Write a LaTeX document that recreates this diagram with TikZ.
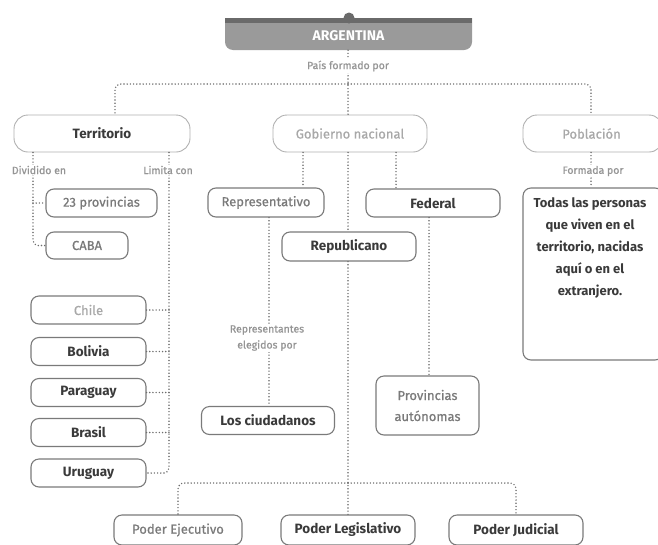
\documentclass[tikz,border=0pt]{standalone}
\usepackage{fontspec}
\setmainfont{Fira Sans}
\newfontfamily\regf[FakeBold=0.8]{Fira Sans}
\definecolor{dk}{HTML}{3A3A3A}
\definecolor{md}{HTML}{7A7A7A}
\definecolor{lt}{HTML}{A8A8A8}
\definecolor{lb}{HTML}{959595}
\definecolor{bd}{HTML}{7A7A7A}
\definecolor{bl}{HTML}{B0B0B0}
\definecolor{dc}{HTML}{6E6E6E}
\definecolor{hdark}{HTML}{6A6A6A}
\definecolor{hmid}{HTML}{9A9A9A}
\newcommand{\fsz}[2]{\fontsize{#1}{#2}\selectfont}
\begin{document}
\begin{tikzpicture}[x=1pt,y=-1pt,
  bigr/.style={draw=bl, line width=0.9pt, rounded corners=14pt, minimum height=37pt, inner sep=0pt, font=\regf\fsz{13}{15}},
  sbox/.style={draw=bd, line width=1.1pt, rounded corners=8pt, minimum height=28pt, inner sep=0pt, font=\regf\fsz{13}{15}},
  dkb/.style={text=dk, font=\fsz{13.5}{15}\bfseries},
  mdt/.style={text=md},
  ltt/.style={text=lt},
  lbl/.style={fill=white, text=lb, font=\regf\fsz{10.5}{16}, inner sep=1.2pt, align=center},
  dot/.style={draw=dc, line width=1.6pt, line cap=round, dash pattern=on 0pt off 3.2pt},
]
\useasboundingbox (0,0) rectangle (658,544);
\clip (0,0) rectangle (658,544);

% header
\fill[hmid, rounded corners=8pt] (225,10) rectangle (472,50);
\fill[white] (224,8) rectangle (473,18);
\fill[hdark] (225,18) rectangle (472,23);
\fill[hdark] (349,18) circle (5.5);
\node[minimum width=247pt, minimum height=28pt, inner sep=0pt, text=white, font=\fsz{14}{15}\bfseries] (arg) at (348.5,36) {ARGENTINA};

% level 1
\node[bigr, dkb, minimum width=176pt] (terr) at (102,133.5) {Territorio};
\node[bigr, ltt, minimum width=154pt] (gob) at (350,133.5) {Gobierno nacional};
\node[bigr, ltt, minimum width=140pt] (pob) at (593,133.5) {\hspace*{-3pt}Población};

% territorio children
\node[sbox, mdt, minimum width=111pt] (prov) at (101.5,203) {23 provincias};
\node[sbox, mdt, minimum width=82pt, minimum height=27pt] (caba) at (87,245.5) {CABA};
\node[sbox, ltt, minimum width=115pt] (chile) at (88.5,310) {Chile};
\node[sbox, dkb, minimum width=115pt] (bol) at (88.5,351.5) {Bolivia};
\node[sbox, dkb, minimum width=115pt] (par) at (88.5,392.5) {Paraguay};
\node[sbox, dkb, minimum width=115pt] (bra) at (88.5,432.5) {Brasil};
\node[sbox, dkb, minimum width=115pt] (uru) at (88.5,473) {Uruguay};

% gobierno children
\node[sbox, mdt, minimum width=116pt, minimum height=29pt] (rep) at (266,202.5) {Representativo};
\node[sbox, dkb, minimum width=134pt] (fed) at (433,203) {Federal};
\node[sbox, dkb, minimum width=134pt, minimum height=29pt] (repu) at (349,246.5) {Republicano};
\node[sbox, dkb, minimum width=133pt] (ciud) at (268,420.5) {Los ciudadanos};
\node[sbox, mdt, minimum width=103pt, minimum height=59pt, align=center, font=\regf\fsz{13}{21}] (paut) at (427.5,405.5) {Provincias\\autónomas};
\node[sbox, mdt, minimum width=128pt, minimum height=30pt] (ejec) at (178,530) {Poder Ejecutivo};
\node[sbox, dkb, minimum width=134pt, minimum height=30pt] (legi) at (348,530) {Poder Legislativo};
\node[sbox, dkb, minimum width=134pt, minimum height=30pt] (judi) at (516,530) {Poder Judicial};

% poblacion child
\node[sbox, minimum width=140pt, minimum height=172pt] (pers) at (593,274) {};
\node[text=dk, font=\fsz{13}{22.2}\bfseries, align=center, inner sep=0pt] (perst) at (590,248) {Todas las personas\\que viven en el\\territorio, nacidas\\aquí o en el\\extranjero.};

% coordinates
\coordinate (hub) at (348,84);
\coordinate (tl) at (115,0);
\coordinate (dl) at (33,0);
\coordinate (lr) at (169,0);
\coordinate (g1) at (303,0);
\coordinate (g2) at (348,0);
\coordinate (g3) at (396,0);
\coordinate (rx) at (269,0);
\coordinate (fx) at (429,0);
\coordinate (bh) at (348,483);

% connectors
\draw[dot] (arg.south -| g2) -- (gob.north -| g2);
\node[lbl] (lpais) at (348,66) {País formado por};
\draw[dot, rounded corners=6pt] (hub) -| (terr.north -| tl);
\draw[dot, rounded corners=6pt] (hub) -| (pob.north -| 591,0);

\draw[dot, rounded corners=5pt] (terr.south -| dl) |- (caba.west);
\draw[dot] (prov.west -| dl) -- (prov.west);
\node[lbl] (ldiv) at (39,170) {Dividido en};

\draw[dot, rounded corners=5pt] (terr.south -| lr) |- (uru.east);
\foreach \n in {chile,bol,par,bra} \draw[dot] (\n.east) -- (\n.east -| lr);
\node[lbl] (llim) at (168,170) {Limita con};

\draw[dot] (gob.south -| g1) -- (rep.north -| g1);
\draw[dot] (gob.south -| g2) -- (repu.north -| g2);
\draw[dot] (gob.south -| g3) -- (fed.north -| g3);
\draw[dot] (repu.south -| g2) -- (legi.north -| g2);
\draw[dot, rounded corners=6pt] (bh) -| (ejec.north);
\draw[dot, rounded corners=6pt] (bh) -| (judi.north);
\draw[dot] (fed.south -| fx) -- (paut.north -| fx);
\draw[dot] (rep.south -| rx) -- (ciud.north -| rx);
\node[lbl] (lrep) at (267,338) {Representantes\\elegidos por};

\draw[dot] (pob.south -| 591,0) -- (pers.north -| 591,0);
\node[lbl] (lform) at (593,171) {Formada por};
\end{tikzpicture}
\end{document}
